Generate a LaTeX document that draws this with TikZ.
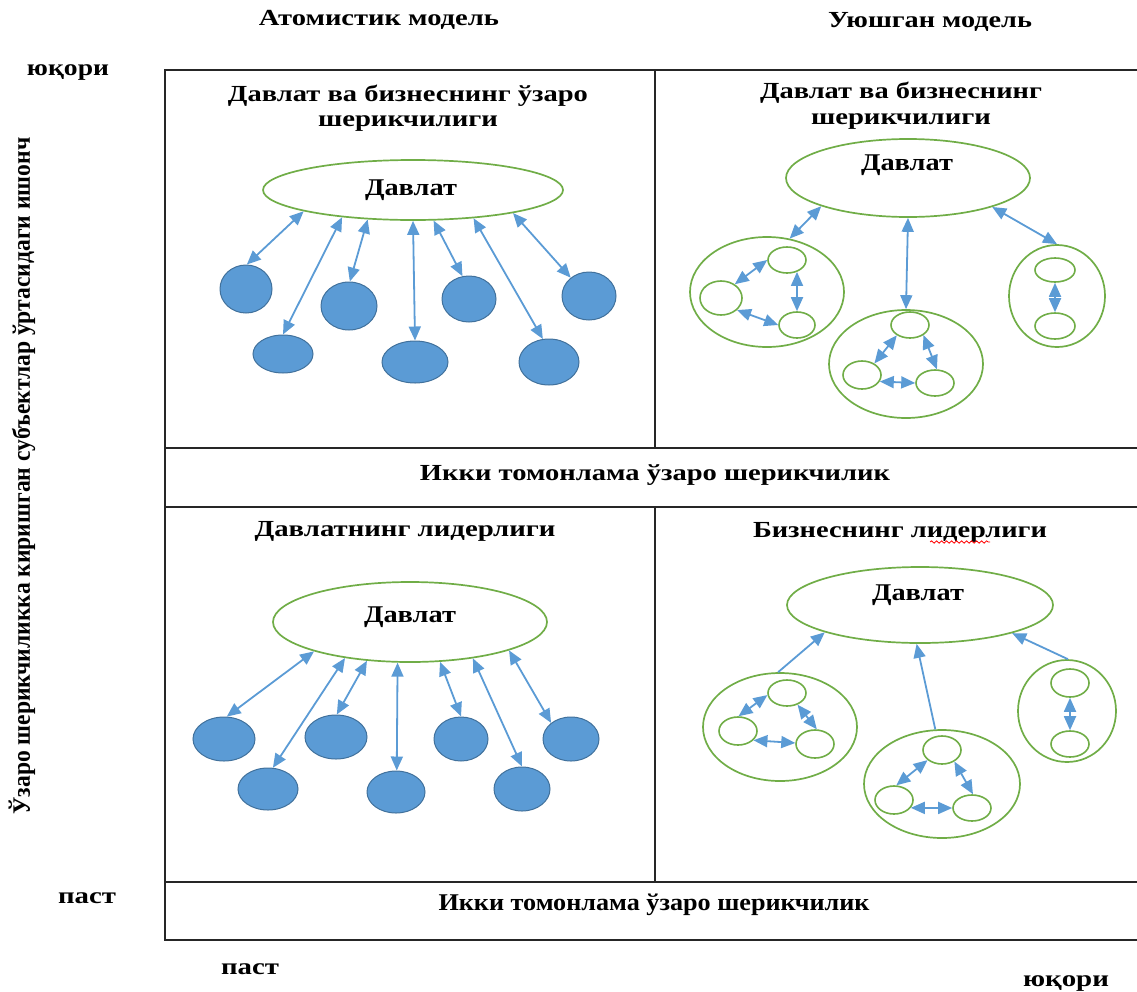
\documentclass[tikz,border=0pt]{standalone}
\usepackage{fontspec}
\setmainfont{Liberation Serif}
\usepackage{graphicx}
\usetikzlibrary{arrows.meta,shapes.geometric,decorations.pathmorphing}
\definecolor{gr}{HTML}{70AD47}
\definecolor{bl}{HTML}{5B9BD5}
\definecolor{bld}{HTML}{41719C}
\newcommand{\txt}[3]{\resizebox{#1pt}{\height}{\fontsize{#2}{#2}\selectfont\bfseries #3}}
\newcommand{\el}[6]{\node[#1,minimum width=#5pt,minimum height=#6pt] (#2) at (#3,#4) {};}
\tikzset{
 frame/.style={line width=2pt, draw=black!85},
 div/.style={line width=1.6pt, draw=black!85},
 bigell/.style={ellipse, draw=gr, line width=1.7pt, inner sep=0pt},
 grp/.style={ellipse, draw=gr, line width=1.7pt, inner sep=0pt},
 sm/.style={ellipse, draw=gr, line width=1.6pt, inner sep=0pt},
 dot/.style={ellipse, fill=bl, draw=bld, line width=1pt, inner sep=0pt},
 arr/.style={draw=bl, line width=1.8pt, {Triangle[length=14pt,width=12pt]}-{Triangle[length=14pt,width=12pt]}},
 arrs/.style={draw=bl, line width=1.8pt, -{Triangle[length=14pt,width=12pt]}},
 lbl/.style={inner sep=0pt},
}
\begin{document}
\begin{tikzpicture}[x=1pt,y=-1pt]
\useasboundingbox (0,0) rectangle (1137,991);
% frame
\coordinate (f1) at (165,70);
\coordinate (f2) at (1140,70);
\coordinate (f3) at (165,940);
\coordinate (f4) at (1140,940);
\coordinate (h1a) at (165,448); \coordinate (h1b) at (1140,448);
\coordinate (h2a) at (165,507); \coordinate (h2b) at (1140,507);
\coordinate (h3a) at (165,882); \coordinate (h3b) at (1140,882);
\coordinate (v1a) at (655,70); \coordinate (v1b) at (655,448);
\coordinate (v2a) at (655,507); \coordinate (v2b) at (655,882);
\draw[frame] (f2) -- (f1) -- (f3) -- (f4);
\draw[div] (h1a) -- (h1b);
\draw[div] (h2a) -- (h2b);
\draw[div] (h3a) -- (h3b);
\draw[div] (v1a) -- (v1b);
\draw[div] (v2a) -- (v2b);

% outside labels
\node[lbl] (tA) at (379,20) {\txt{240}{23}{Атомистик модель}};
\node[lbl] (tU) at (930,22) {\txt{204}{23}{Уюшган модель}};
\node[lbl] (yq1) at (68,73) {\txt{82}{23}{юқори}};
\node[lbl] (ps1) at (87,898) {\txt{58}{23}{паст}};
\node[lbl] (ps2) at (250,969) {\txt{58}{23}{паст}};
\node[lbl] (yq2) at (1066,984) {\txt{86}{23}{юқори}};
\node[lbl,rotate=90] (vert) at (22,476) {\txt{677}{25}{Ўзаро шерикчиликка киришган субъектлар ўртасидаги ишонч}};

% band texts
\node[lbl] (band1) at (655,475) {\txt{470}{23}{Икки томонлама ўзаро шерикчилик}};
\node[lbl] (band2) at (654,905) {\txt{431}{24}{Икки томонлама ўзаро шерикчилик}};

% quadrant titles
\node[lbl] (q1a) at (408,96) {\txt{360}{23}{Давлат ва бизнеснинг ўзаро}};
\node[lbl] (q1b) at (408,124) {\txt{180}{23}{шерикчилиги}};
\node[lbl] (q2a) at (901,93) {\txt{282}{23}{Давлат ва бизнеснинг}};
\node[lbl] (q2b) at (901,122) {\txt{180}{23}{шерикчилиги}};
\node[lbl] (q3) at (405,531) {\txt{301}{23}{Давлатнинг лидерлиги}};
\node[lbl] (q4) at (900,532) {\txt{294}{23}{Бизнеснинг лидерлиги}};
\coordinate (sq1) at (930,542); \coordinate (sq2) at (990,542);
\draw[red, line width=0.8pt, decorate, decoration={snake, amplitude=1.2pt, segment length=5pt}] (sq1) -- (sq2);

% ===== top-left =====
\el{bigell}{E1}{413}{190}{300}{60}
\node[lbl] (d1) at (411,190) {\txt{92}{24}{Давлат}};
\el{dot}{a1}{246}{289}{52}{48}
\el{dot}{a2}{283}{354}{60}{38}
\el{dot}{a3}{349}{306}{56}{48}
\el{dot}{a4}{415}{362}{66}{42}
\el{dot}{a5}{469}{299}{54}{46}
\el{dot}{a6}{549}{362}{60}{46}
\el{dot}{a7}{589}{296}{54}{48}
\draw[arr] (E1.191.5) -- (a1.88);
\draw[arr] (E1.201.8) -- (a2.90);
\draw[arr] (E1.213.4) -- (a3.88);
\draw[arr] (E1.270) -- (a4.90);
\draw[arr] (E1.304.5) -- (a5.106);
\draw[arr] (E1.335.4) -- (a6.105);
\draw[arr] (E1.347.9) -- (a7.135);

% ===== top-right =====
\el{bigell}{E2}{908}{178}{244}{78}
\node[lbl] (d2) at (907,165) {\txt{92}{24}{Давлат}};
\el{grp}{GA}{767}{292}{154}{110}
\el{grp}{GB}{906}{364}{154}{108}
\el{grp}{GC}{1057}{296}{96}{102}
\el{sm}{A1}{787}{260}{38}{26}
\el{sm}{A2}{721}{298}{42}{34}
\el{sm}{A3}{797}{325}{36}{26}
\el{sm}{B1}{910}{325}{38}{26}
\el{sm}{B2}{862}{375}{38}{28}
\el{sm}{B3}{935}{383}{38}{26}
\el{sm}{C1}{1055}{270}{40}{24}
\el{sm}{C2}{1055}{326}{40}{26}
\draw[arr] (E2.198.8) -- (GA.67);
\draw[arr] (E2.south) -- (GB.north);
\draw[arr] (E2.341.8) -- (GC.90);
\draw[arr] (A1.180) -- (A2.45);
\draw[arr] (A1.310) -- (A3.90);
\draw[arr] (A2.323) -- (A3.180);
\draw[arr] (B1.218) -- (B2.43);
\draw[arr] (B1.323) -- (B3.82);
\draw[arr] (B2.-20) -- (B3.180);
\draw[arr] (C1.south) -- (C2.north);

% ===== bottom-left =====
\el{bigell}{E3}{410}{622}{274}{80}
\node[lbl] (d3) at (410,617) {\txt{92}{24}{Давлат}};
\el{dot}{b1}{224}{739}{62}{44}
\el{dot}{b2}{268}{789}{60}{42}
\el{dot}{b3}{336}{737}{62}{44}
\el{dot}{b4}{396}{792}{58}{42}
\el{dot}{b5}{461}{739}{54}{44}
\el{dot}{b6}{522}{789}{56}{44}
\el{dot}{b7}{571}{739}{56}{44}
\draw[arr] (E3.197) -- (b1.83);
\draw[arr] (E3.209.8) -- (b2.77);
\draw[arr] (E3.222.4) -- (b3.88);
\draw[arr] (E3.253) -- (b4.88);
\draw[arr] (E3.307.5) -- (b5.90);
\draw[arr] (E3.330.2) -- (b6.90);
\draw[arr] (E3.344.3) -- (b7.141);

% ===== bottom-right =====
\el{bigell}{E4}{920}{605}{266}{76}
\node[lbl] (d4) at (918,595) {\txt{92}{24}{Давлат}};
\el{grp}{HA}{780}{727}{154}{108}
\el{grp}{HB}{942}{784}{156}{108}
\el{grp}{HC}{1067}{711}{98}{102}
\el{sm}{P1}{787}{693}{38}{26}
\el{sm}{P2}{738}{731}{38}{28}
\el{sm}{P3}{815}{744}{38}{28}
\el{sm}{Q1}{942}{750}{38}{28}
\el{sm}{Q2}{894}{800}{38}{28}
\el{sm}{Q3}{972}{808}{38}{26}
\el{sm}{R1}{1070}{683}{38}{28}
\el{sm}{R2}{1070}{744}{38}{26}
\draw[arrs] (HA.92) -- (E4.196.8);
\draw[arrs] (HB.97) -- (E4.265.5);
\draw[arrs] (HC.89) -- (E4.343.6);
\draw[arr] (P1.186) -- (P2.88);
\draw[arr] (P1.312) -- (P3.83);
\draw[arr] (P2.329) -- (P3.177);
\draw[arr] (Q1.215.5) -- (Q2.81);
\draw[arr] (Q1.317) -- (Q3.86);
\draw[arr] (Q2.335) -- (Q3.180);
\draw[arr] (R1.south) -- (R2.north);
\end{tikzpicture}
\end{document}
